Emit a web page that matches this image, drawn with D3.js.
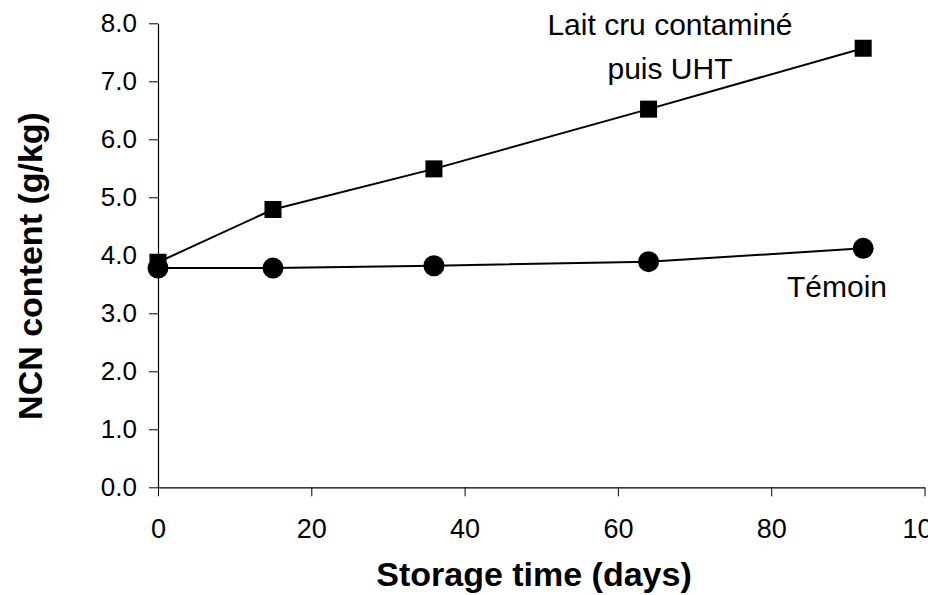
<!DOCTYPE html>
<html>
<head>
<meta charset="utf-8">
<script src="https://cdn.jsdelivr.net/npm/d3@7"></script>
<style>
  html, body { margin: 0; padding: 0; background: #fff; }
  svg { display: block; font-family: "Liberation Sans", Arial, sans-serif; }
</style>
</head>
<body>
<svg id="chart" width="928" height="595"></svg>
<script>
// Data
const days = [0, 15, 36, 64, 92];
const contaminatedUHT = [3.88, 4.79, 5.49, 6.52, 7.57];
const temoin = [3.78, 3.78, 3.82, 3.89, 4.12];
const xTicks = [0, 20, 40, 60, 80, 100];
const yTicks = [0, 1, 2, 3, 4, 5, 6, 7, 8];
const seriesLabels = ["Lait cru contaminé", "puis UHT", "Témoin"];
const xTitle = "Storage time (days)";
const yTitle = "NCN content (g/kg)";

const svg = d3.select("#chart");
const x = d3.scaleLinear().domain([0, 100]).range([158, 924.5]);
const y = d3.scaleLinear().domain([0, 8]).range([487.3, 23.3]);

// Axes
const xAxis = d3.axisBottom(x).tickValues(xTicks).tickSize(9).tickSizeOuter(0).tickPadding(23).tickFormat(d3.format("d"));
const yAxis = d3.axisLeft(y).tickValues(yTicks).tickSize(9).tickSizeOuter(0).tickPadding(12).tickFormat(d3.format(".1f"));

const gx = svg.append("g").attr("transform", `translate(0,${y(0)})`).call(xAxis);
const gy = svg.append("g").attr("transform", `translate(${x(0)},0)`).call(yAxis);
[gx, gy].forEach(g => {
  g.select(".domain").attr("stroke", "#000").attr("stroke-width", 1.2);
  g.selectAll(".tick line").attr("stroke", "#000").attr("stroke-width", 1);
  g.selectAll(".tick text").attr("fill", "#000")
    .attr("font-family", "'Liberation Sans', Arial, sans-serif");
});
gx.selectAll(".tick text").attr("font-size", 27);
gy.selectAll(".tick text").attr("font-size", 26);

// Lines
const line = d3.line().x(d => x(d[0])).y(d => y(d[1]));
const sq = days.map((d, i) => [d, contaminatedUHT[i]]);
const ci = days.map((d, i) => [d, temoin[i]]);

svg.append("path").datum(ci).attr("d", line).attr("fill", "none").attr("stroke", "#000").attr("stroke-width", 2);
svg.append("path").datum(sq).attr("d", line).attr("fill", "none").attr("stroke", "#000").attr("stroke-width", 2);

// Markers
const s = 17;
svg.append("g").selectAll("rect").data(sq).join("rect")
  .attr("x", d => x(d[0]) - s / 2).attr("y", d => y(d[1]) - s / 2)
  .attr("width", s).attr("height", s).attr("fill", "#000");
svg.append("g").selectAll("circle").data(ci).join("circle")
  .attr("cx", d => x(d[0])).attr("cy", d => y(d[1])).attr("r", 10.5).attr("fill", "#000");

// Series labels
svg.append("text").attr("x", 670).attr("y", 35).attr("text-anchor", "middle")
  .attr("font-size", 30).attr("fill", "#000").text(seriesLabels[0]);
svg.append("text").attr("x", 670).attr("y", 79).attr("text-anchor", "middle")
  .attr("font-size", 30).attr("fill", "#000").text(seriesLabels[1]);
svg.append("text").attr("x", 837).attr("y", 297).attr("text-anchor", "middle")
  .attr("font-size", 30).attr("fill", "#000").text(seriesLabels[2]);

// Axis titles
svg.append("text").attr("x", 534).attr("y", 586).attr("text-anchor", "middle")
  .attr("font-size", 34).attr("font-weight", "bold").attr("fill", "#000").text(xTitle);
svg.append("text").attr("transform", "translate(42,266) rotate(-90)").attr("text-anchor", "middle")
  .attr("font-size", 34).attr("font-weight", "bold").attr("fill", "#000").text(yTitle);
</script>
</body>
</html>
